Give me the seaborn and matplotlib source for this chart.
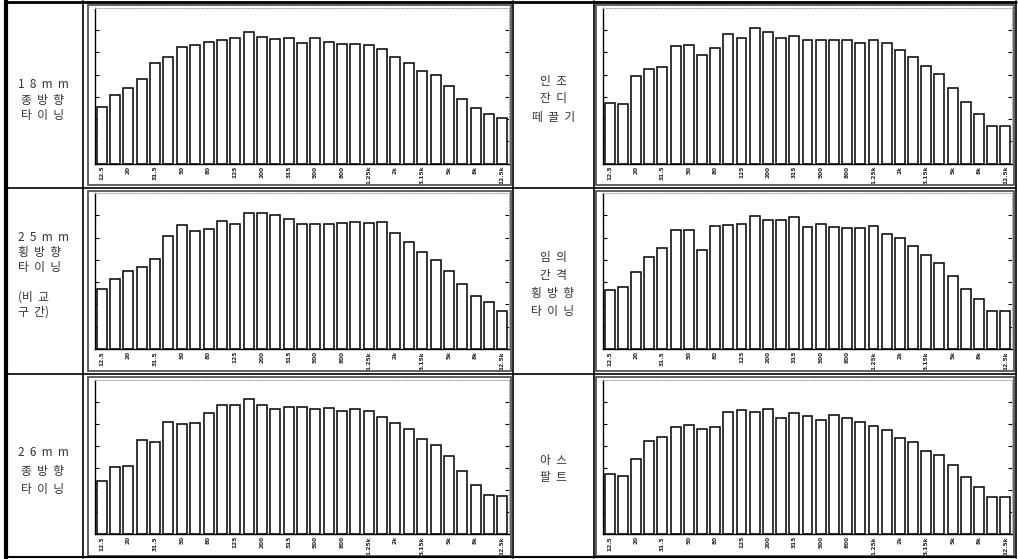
import matplotlib
matplotlib.use("Agg")
import matplotlib.pyplot as plt
from matplotlib.lines import Line2D
from matplotlib.patches import Rectangle
import seaborn as sns
import pandas as pd

# ---------------- data ----------------
bands = ["12.5", "16", "20", "25", "31.5", "40", "50", "63", "80", "100",
         "125", "160", "200", "250", "315", "400", "500", "630", "800", "1k",
         "1.25k", "1.6k", "2k", "2.5k", "3.15k", "4k", "5k", "6.3k", "8k", "10k", "12.5k"]
tick_labels = ["12.5", "20", "31.5", "50", "80", "125", "200", "315", "500", "800",
               "1.25k", "2k", "3.15k", "5k", "8k", "12.5k"]

tining_18mm_long = [25.4, 30.9, 33.9, 38.1, 45.2, 47.8, 52.5, 53.3, 54.8, 55.5,
                    56.3, 59.0, 57.0, 56.0, 56.4, 54.2, 56.7, 54.5, 54.0, 53.7,
                    53.4, 51.5, 48.1, 45.2, 41.8, 39.9, 34.8, 29.1, 25.1, 22.2, 20.3]
artificial_turf = [27.3, 26.9, 39.3, 42.5, 43.6, 53.0, 53.4, 48.7, 51.8, 58.1,
                   56.3, 60.9, 59.0, 56.7, 57.3, 55.5, 55.4, 55.8, 55.7, 54.2,
                   55.7, 54.3, 50.9, 47.8, 43.9, 40.1, 34.0, 27.8, 22.2, 16.9, 16.9]
tining_25mm_trans = [26.7, 31.3, 35.2, 36.7, 40.4, 50.6, 55.8, 52.8, 53.7, 57.3,
                     56.3, 60.9, 60.9, 60.3, 58.4, 56.0, 56.3, 56.1, 56.4, 57.2,
                     56.7, 56.9, 52.2, 47.8, 43.4, 40.0, 34.9, 29.0, 23.9, 21.0, 17.2]
random_trans = [26.4, 27.8, 34.5, 41.5, 45.5, 53.6, 53.6, 44.6, 55.4, 55.5,
                56.1, 59.7, 57.8, 58.1, 59.4, 54.9, 56.0, 54.6, 54.5, 54.5,
                55.1, 51.6, 49.6, 46.0, 42.4, 38.5, 32.7, 26.9, 22.5, 16.9, 16.9]
tining_26mm_long = [23.9, 30.3, 30.9, 42.8, 41.8, 50.7, 50.1, 50.4, 54.9, 58.8,
                    58.8, 61.5, 58.8, 57.0, 57.9, 57.9, 57.0, 57.2, 55.7, 56.9,
                    55.8, 53.4, 50.4, 47.8, 43.1, 40.3, 35.5, 28.8, 22.5, 17.6, 17.5]
asphalt = [27.5, 26.4, 34.0, 42.5, 44.3, 48.7, 49.6, 47.8, 48.8, 55.5,
           56.3, 55.4, 56.6, 52.7, 54.9, 53.6, 51.8, 54.0, 52.8, 50.9,
           49.0, 47.3, 43.6, 41.8, 37.9, 35.8, 31.2, 25.7, 21.3, 16.6, 16.6]

labels_left = [["1  8  m  m", "종  방  향", "타  이  닝"],
               ["2  5  m  m", "횡  방  향", "타  이  닝", "", "(비  교", "구  간)"],
               ["2  6  m  m", "종  방  향", "타  이  닝"]]
labels_right = [["인  조", "잔  디", "떼  끌  기"],
                ["임  의", "간  격", "횡  방  향", "타  이  닝"],
                ["아  스", "팔  트"]]

series_left = [tining_18mm_long, tining_25mm_trans, tining_26mm_long]
series_right = [artificial_turf, random_trans, asphalt]

# ---------------- style ----------------
sns.set_style("white")
plt.rcParams['font.family'] = ['Noto Sans CJK KR', 'DejaVu Sans']

W, H = 1018, 559
fig = plt.figure(figsize=(W / 100, H / 100), dpi=100)
fig.patch.set_facecolor("white")


def fx(x):
    return x / W


def fy(y):
    return 1 - y / H


def hline(y, x0, x1, lw=1.0, color="black"):
    fig.add_artist(Line2D([fx(x0), fx(x1)], [fy(y), fy(y)], lw=lw, color=color,
                          transform=fig.transFigure))


def vline(x, y0, y1, lw=1.0, color="black"):
    fig.add_artist(Line2D([fx(x), fx(x)], [fy(y0), fy(y1)], lw=lw, color=color,
                          transform=fig.transFigure))


# table grid
hline(1.5, 5, 1016, lw=2.0)
hline(557, 5, 1016, lw=1.5)
vline(6, 1, 558, lw=3.0)
vline(1016, 1, 558, lw=1.2)
for yy in (188, 374):
    hline(yy, 5, 1016, lw=1.2)
for xx in (82.5, 513, 594):
    vline(xx, 1, 558, lw=1.2)

# chart layout: (box top, box bottom, axis top, baseline) per row
rows = [(5, 185, 8, 163.5), (191, 371, 193, 349), (377, 555.5, 380, 534)]
cols = [(88, 511, 95, 509), (596, 1014, 603, 1012)]


def draw_chart(values, box, axrect):
    bx0, bx1, by0, by1 = box
    fig.add_artist(Rectangle((fx(bx0), fy(by1)), fx(bx1 - bx0), (by1 - by0) / H,
                             transform=fig.transFigure, fill=False,
                             edgecolor="#555555", lw=1.3))
    ax0, ax1, ay0, ay1 = axrect
    ax = fig.add_axes([fx(ax0), fy(ay1), fx(ax1 - ax0), (ay1 - ay0) / H])
    df = pd.DataFrame({"band": bands, "level": values})
    sns.barplot(data=df, x="band", y="level", order=bands, ax=ax, color="white",
                saturation=1, edgecolor="black", linewidth=1.1, width=0.75)
    ax.set_xlim(-0.5, len(bands) - 0.5)
    ax.set_ylim(0, 70)
    ax.set_xlabel("")
    ax.set_ylabel("")
    ax.set_xticks(range(0, len(bands), 2))
    ax.set_xticklabels(tick_labels, rotation=90, fontsize=4.2,
                       family="DejaVu Sans", fontweight="bold", va="top")
    ax.tick_params(axis="x", length=0, pad=1.5)
    ax.set_yticks(range(10, 70, 10))
    ax.set_yticklabels([])
    ax.tick_params(axis="y", direction="in", length=3, width=0.8,
                   left=True, right=True, colors="black")
    for t in ax.yaxis.get_ticklines()[1::2]:
        t.set_color("#999999")
    ax.spines["left"].set_color("black")
    ax.spines["left"].set_linewidth(1.0)
    ax.spines["bottom"].set_color("black")
    ax.spines["bottom"].set_linewidth(1.0)
    for s in ("top", "right"):
        ax.spines[s].set_color("#aaaaaa")
        ax.spines[s].set_linewidth(0.8)
        ax.spines[s].set_linestyle((0, (1, 1.5)))
    ax.set_facecolor("white")
    return ax


for r, (boxt, boxb, axt, base) in enumerate(rows):
    for c, series in enumerate((series_left, series_right)):
        bx0, bx1, ax0, ax1 = cols[c]
        draw_chart(series[r], (bx0, bx1, boxt, boxb), (ax0, ax1, axt, base))


def place_label(lines, x, yc, dy=16, ha="center"):
    n = len(lines)
    y0 = yc - (n - 1) * dy / 2
    for i, line in enumerate(lines):
        style = "italic" if (line.startswith("1 ")) else "normal"
        fig.text(fx(x), fy(y0 + i * dy), line, ha=ha, va="center",
                 fontsize=8.5, color="#333333", style=style)


place_label(labels_left[0], 43, 100, dy=15)
place_label(labels_left[1], 18, 275, dy=15, ha="left")
place_label(labels_left[2], 43, 471, dy=19)
place_label(labels_right[0], 554, 99, dy=18)
place_label(labels_right[1], 553, 284, dy=18)
place_label(labels_right[2], 553, 469, dy=17)

fig.savefig("out.png", dpi=100)
